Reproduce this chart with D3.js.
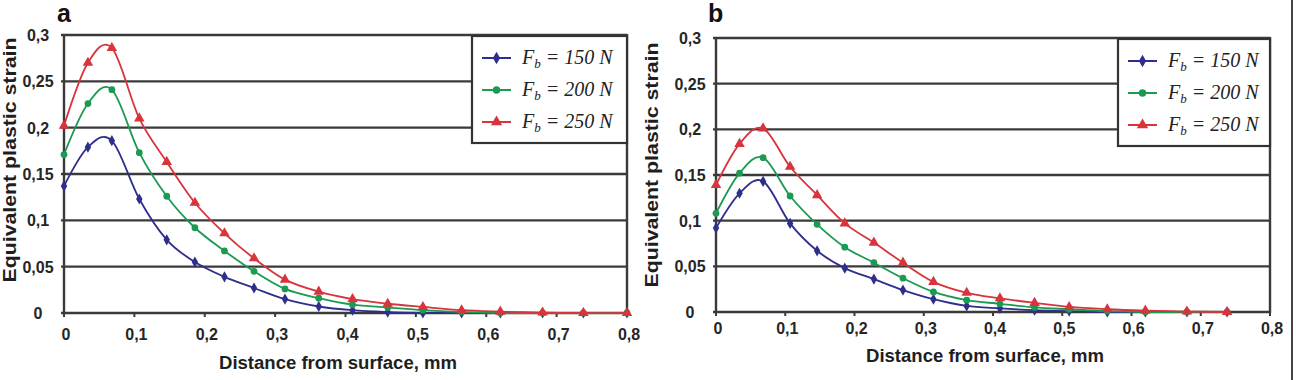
<!DOCTYPE html>
<html>
<head>
<meta charset="utf-8">
<script src="https://cdn.jsdelivr.net/npm/d3@7"></script>
<style>
  body { margin: 0; background: #fff; }
  svg { display: block; }
  .tick-label { font-family: "Liberation Sans", Arial, sans-serif; font-weight: bold; font-size: 16px; fill: #262626; }
  .axis-title { font-family: "Liberation Sans", Arial, sans-serif; font-weight: bold; font-size: 18px; fill: #1e1e1e; }
  .panel-tag { font-family: "Liberation Sans", Arial, sans-serif; font-weight: bold; font-size: 25px; fill: #111; }
  .legend-text { font-family: "Liberation Serif", "Times New Roman", serif; font-style: italic; font-size: 20px; fill: #222; }
</style>
</head>
<body>
<div id="myChart"></div>
<script>
// distance from surface (mm), shared by both panels
let xs = [0, 0.034, 0.068, 0.107, 0.146, 0.186, 0.228, 0.27, 0.314, 0.362, 0.41, 0.46, 0.51, 0.565, 0.62, 0.68, 0.738, 0.8];

// panel a
let blueA  = [0.137, 0.179, 0.186, 0.123, 0.079, 0.055, 0.039, 0.027, 0.015, 0.007, 0.003, 0.001, 0, 0, 0, 0, 0, 0];
let greenA = [0.171, 0.226, 0.241, 0.173, 0.126, 0.092, 0.067, 0.045, 0.026, 0.016, 0.009, 0.006, 0.003, 0.001, 0, 0, 0, 0];
let redA   = [0.202, 0.270, 0.286, 0.210, 0.163, 0.119, 0.086, 0.059, 0.036, 0.023, 0.015, 0.010, 0.0065, 0.003, 0.0015, 0.0005, 0, 0];

// panel b (last point at 0,735)
let blueB  = [0.092, 0.130, 0.143, 0.097, 0.067, 0.048, 0.036, 0.024, 0.014, 0.0066, 0.004, 0.002, 0.001, 0, 0, 0, 0];
let greenB = [0.108, 0.152, 0.169, 0.127, 0.096, 0.071, 0.054, 0.037, 0.022, 0.013, 0.009, 0.005, 0.003, 0.001, 0, 0, 0];
let redB   = [0.139, 0.184, 0.201, 0.159, 0.128, 0.097, 0.076, 0.054, 0.033, 0.021, 0.015, 0.010, 0.0055, 0.003, 0.0015, 0.0005, 0];

let forces = [150, 200, 250];
let yTicks = [0, 0.05, 0.1, 0.15, 0.2, 0.25, 0.3];
let xTicks = [0, 0.1, 0.2, 0.3, 0.4, 0.5, 0.6, 0.7, 0.8];

let colors = ['#2e2e8c', '#1a9a52', '#d8343c'];
let symbols = [d3.symbolDiamond, d3.symbolCircle, d3.symbolTriangle];
let symSizes = [36, 36, 48];

let fmt = (d) => String(d).replace('.', ',');

let svg = d3.select('#myChart')
    .append('svg')
    .attr('width', 1296)
    .attr('height', 380);

function drawPanel(p) {
    let x = d3.scaleLinear().domain([0, 0.8]).range([p.left, p.right]);
    let y = d3.scaleLinear().domain([0, 0.3]).range([p.bottom, p.top]);
    let g = svg.append('g');

    // gridlines (y ticks), slightly extended left of axis
    g.selectAll('.grid')
        .data(yTicks)
        .enter()
        .append('line')
        .attr('x1', p.left - 3)
        .attr('x2', p.right)
        .attr('y1', (d) => y(d))
        .attr('y2', (d) => y(d))
        .attr('stroke', '#3a3a3a')
        .attr('stroke-width', 2.4);

    // left axis and right border
    [p.left, p.right].forEach((xx) => {
        g.append('line')
            .attr('x1', xx).attr('x2', xx)
            .attr('y1', p.top - 1).attr('y2', p.bottom + 1)
            .attr('stroke', '#3a3a3a')
            .attr('stroke-width', 2.4);
    });

    // small x tick marks
    g.selectAll('.xtick')
        .data(xTicks)
        .enter()
        .append('line')
        .attr('x1', (d) => x(d)).attr('x2', (d) => x(d))
        .attr('y1', p.bottom).attr('y2', p.bottom + 4)
        .attr('stroke', '#3a3a3a')
        .attr('stroke-width', 2);

    // y tick labels (centered column)
    g.selectAll('.ylab')
        .data(yTicks)
        .enter()
        .append('text')
        .attr('class', 'tick-label')
        .attr('x', p.left - 26)
        .attr('y', (d) => y(d) + 6)
        .attr('text-anchor', 'middle')
        .text(fmt);

    // x tick labels
    g.selectAll('.xlab')
        .data(xTicks)
        .enter()
        .append('text')
        .attr('class', 'tick-label')
        .attr('x', (d) => x(d) + 2)
        .attr('y', p.bottom + p.xLabOff)
        .attr('text-anchor', 'middle')
        .text(fmt);

    // axis titles
    g.append('text')
        .attr('class', 'axis-title')
        .attr('x', p.xTitleX)
        .attr('y', p.xTitleY)
        .attr('text-anchor', 'middle')
        .attr('textLength', 238)
        .attr('lengthAdjust', 'spacingAndGlyphs')
        .text('Distance from surface, mm');

    g.append('text')
        .attr('class', 'axis-title')
        .attr('transform', 'translate(' + p.yTitleX + ',' + p.yTitleY + ') rotate(-90)')
        .attr('text-anchor', 'middle')
        .attr('textLength', 245)
        .attr('lengthAdjust', 'spacingAndGlyphs')
        .text('Equivalent plastic strain');

    // panel tag
    g.append('text')
        .attr('class', 'panel-tag')
        .attr('x', p.tagX)
        .attr('y', 22)
        .text(p.tag);

    // series
    let line = d3.line()
        .x((d) => x(d[0]))
        .y((d) => y(d[1]))
        .curve(d3.curveCardinal.tension(0));

    p.series.forEach((vals, i) => {
        let pts = vals.map((v, k) => [xs[k], v]);
        g.append('path')
            .datum(pts)
            .attr('fill', 'none')
            .attr('stroke', colors[i])
            .attr('stroke-width', 1.8)
            .attr('d', line);

        g.selectAll('.m' + i)
            .data(pts)
            .enter()
            .append('path')
            .attr('transform', (d) => 'translate(' + x(d[0]) + ',' + y(d[1]) + ')')
            .attr('d', d3.symbol().type(symbols[i]).size(symSizes[i]))
            .attr('fill', colors[i]);
    });

    // legend
    let lg = g.append('g');
    lg.append('rect')
        .attr('x', p.legX)
        .attr('y', p.top + 1)
        .attr('width', p.right - p.legX)
        .attr('height', 107)
        .attr('fill', '#fff')
        .attr('stroke', '#333')
        .attr('stroke-width', 2.2);

    forces.forEach((f, i) => {
        let ry = p.top + 23 + i * 32;
        let lx = p.legX + 10;
        lg.append('line')
            .attr('x1', lx).attr('x2', lx + 29)
            .attr('y1', ry).attr('y2', ry)
            .attr('stroke', colors[i])
            .attr('stroke-width', 2);
        lg.append('path')
            .attr('transform', 'translate(' + (lx + 14.5) + ',' + ry + ')')
            .attr('d', d3.symbol().type(symbols[i]).size(symSizes[i] + 8))
            .attr('fill', colors[i]);
        let t = lg.append('text')
            .attr('class', 'legend-text')
            .attr('x', lx + 40)
            .attr('y', ry + 6);
        t.append('tspan').text('F');
        t.append('tspan').attr('font-size', '13px').attr('dy', 4).text('b');
        t.append('tspan').attr('dy', -4).text(' = ' + f + ' N');
    });
}

drawPanel({
    tag: 'a', tagX: 57,
    left: 64, right: 627, top: 35, bottom: 313,
    xLabOff: 27, xTitleX: 338, xTitleY: 369,
    yTitleX: 16, yTitleY: 160,
    legX: 472,
    series: [blueA, greenA, redA]
});

drawPanel({
    tag: 'b', tagX: 708,
    left: 716, right: 1270, top: 38, bottom: 312,
    xLabOff: 22, xTitleX: 985, xTitleY: 362,
    yTitleX: 658, yTitleY: 165,
    legX: 1118,
    series: [blueB, greenB, redB]
});

// figure frame edge on the right
svg.append('line')
    .attr('x1', 1292).attr('x2', 1292)
    .attr('y1', 0).attr('y2', 380)
    .attr('stroke', '#444')
    .attr('stroke-width', 2);
</script>
</body>
</html>
